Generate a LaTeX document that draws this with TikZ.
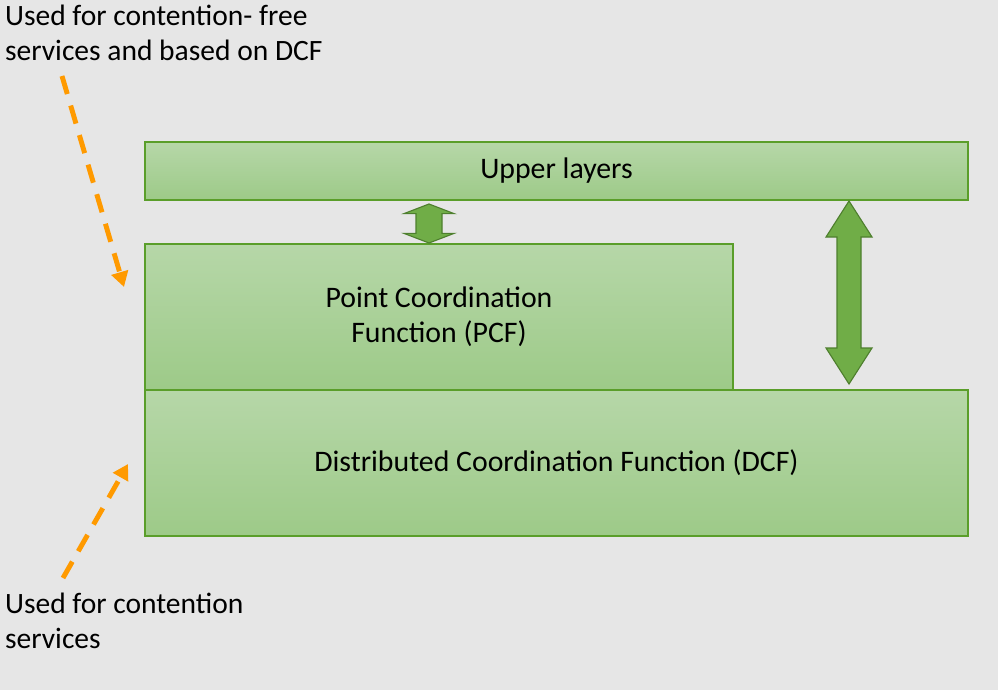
\documentclass[tikz,border=0pt]{standalone}
\usepackage{fontspec}
\setmainfont{Carlito}
\usetikzlibrary{calc,arrows.meta}

\definecolor{bggray}{HTML}{E6E6E6}
\definecolor{boxtop}{HTML}{B6D7A8}
\definecolor{boxbot}{HTML}{9DCA88}
\definecolor{boxline}{HTML}{5A9E2A}
\definecolor{arrowfill}{HTML}{70AD47}
\definecolor{arrowline}{HTML}{4E7F2E}
\definecolor{note}{HTML}{FF9A00}

\tikzset{
  layer/.style={draw=boxline, line width=1pt, top color=boxtop, bottom color=boxbot,
    inner sep=0pt, align=center, font=\fontsize{21.2}{24.8}\selectfont},
  remark/.style={inner sep=0pt, align=left, anchor=north west, font=\fontsize{21}{24.6}\selectfont},
  fat/.style={fill=arrowfill, draw=arrowline, line width=0.8pt, line join=miter},
  hint/.style={draw=note, line width=3.5pt, dash pattern=on 0.47cm off 0.3cm,
    -{Triangle[length=0.38cm,width=0.42cm]}}
}

% double block arrow: top, bottom, half head, half shaft, head length
\newcommand{\fatarrow}[5]{%
  \draw[fat] (#1) -- ($(#1)+(#3,-#5)$) -- ($(#1)+(#4,-#5)$) -- ($(#2)+(#4,#5)$)
    -- ($(#2)+(#3,#5)$) -- (#2) -- ($(#2)+(-#3,#5)$) -- ($(#2)+(-#4,#5)$)
    -- ($(#1)+(-#4,-#5)$) -- ($(#1)+(-#3,-#5)$) -- cycle;}

\begin{document}
\begin{tikzpicture}
  \fill[bggray] (0,0) rectangle (24.95,17.25);
  \useasboundingbox (0,0) rectangle (24.95,17.25);

  \node[layer, minimum width=20.575cm, minimum height=1.45cm] (upper) at (13.9125,12.975) {Upper layers};
  \node[layer, minimum width=14.7cm, minimum height=3.65cm] (pcf) at (10.975,9.325) {Point Coordination\\Function (PCF)};
  \node[layer, minimum width=20.575cm, minimum height=3.65cm] (dcf) at (13.9125,5.675) {Distributed Coordination Function (DCF)};

  \node[remark] (freenote) at (0.12,17.12) {Used for contention- free\\services and based on DCF};
  \node[remark] (contnote) at (0.12,2.42) {Used for contention\\services};

  \coordinate (pcftop) at (10.725,12.15);
  \coordinate (pcfbot) at (10.725,11.175);
  \coordinate (dcftop) at (21.225,12.225);
  \coordinate (dcfbot) at (21.225,7.65);
  \fatarrow{pcftop}{pcfbot}{0.625}{0.325}{0.24}
  \fatarrow{dcftop}{dcfbot}{0.575}{0.3}{0.9}

  \coordinate (freestart) at (1.55,15.35);
  \coordinate (freeend) at (3.1,10.075);
  \coordinate (contstart) at (1.575,2.8);
  \coordinate (contend) at (3.2,5.65);
  \draw[hint] (freestart) -- (freeend);
  \draw[hint] (contstart) -- (contend);
\end{tikzpicture}
\end{document}
